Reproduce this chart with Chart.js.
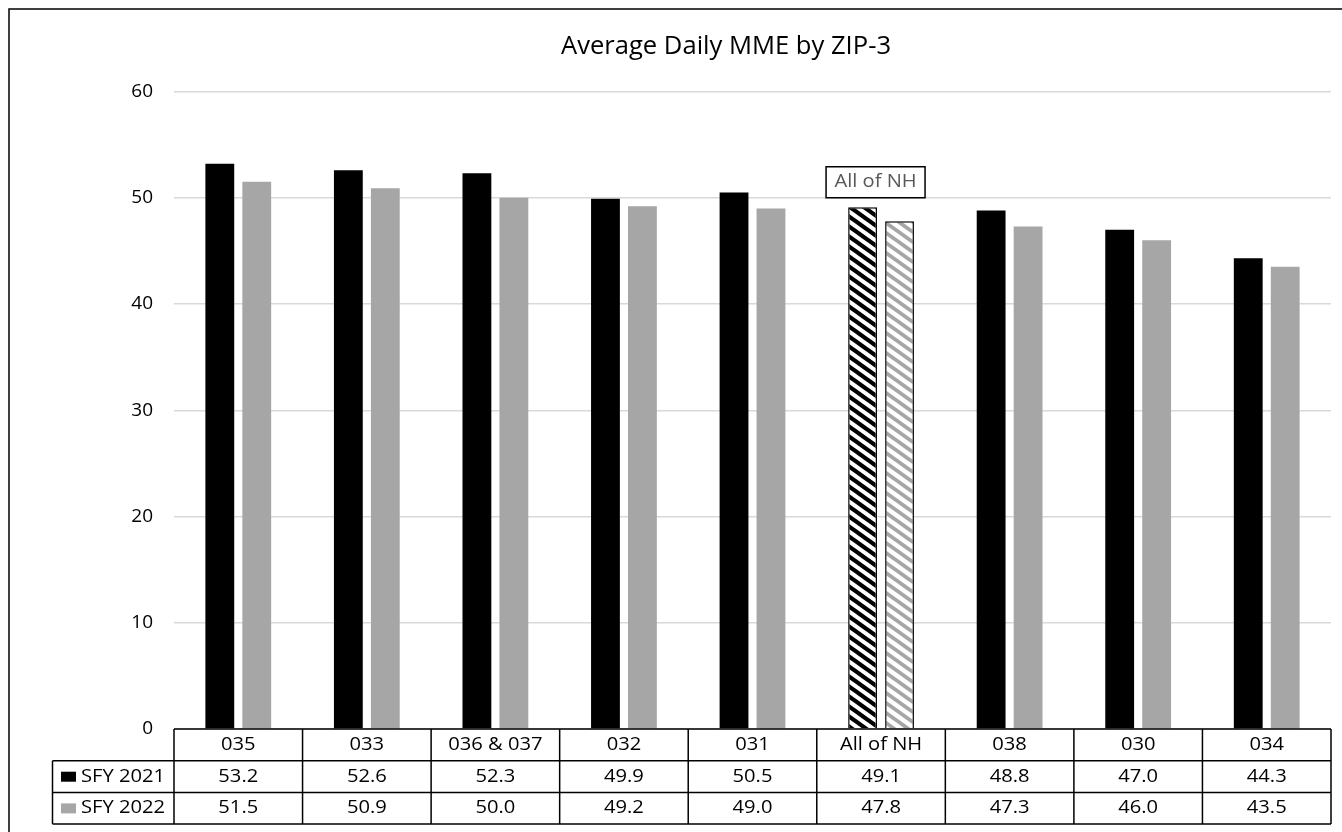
<!DOCTYPE html>
<html>
<head>
<meta charset="utf-8">
<title>Average Daily MME by ZIP-3</title>
<script src="https://cdn.jsdelivr.net/npm/chart.js@4/dist/chart.umd.min.js"></script>
<style>
  html, body { margin: 0; padding: 0; background: #fff; overflow: hidden; }
  #wrap { width: 1342px; height: 832px; position: relative; }
  canvas { display: block; }
</style>
</head>
<body>
<div id="wrap"><canvas id="chart" width="1342" height="832"></canvas></div>
<script>
// ZIP-3 regions, in display order
const categories = ['035', '033', '036 & 037', '032', '031', 'All of NH', '038', '030', '034'];
const seriesNames = ['SFY 2021', 'SFY 2022'];
// Average daily MME per region
const sfy2021 = [53.2, 52.6, 52.3, 49.9, 50.5, 49.1, 48.8, 47.0, 44.3];
const sfy2022 = [51.5, 50.9, 50.0, 49.2, 49.0, 47.8, 47.3, 46.0, 43.5];
const yTickValues = [0, 10, 20, 30, 40, 50, 60];
const statewideCategory = 'All of NH';
const titleText = 'Average Daily MME by ZIP-3';

const BLACK = '#000000';
const GREY = '#a6a6a6';
const FONT = '"Open Sans", Lato, sans-serif';

// Diagonal hatch used for the statewide bars
function makeHatch(color, lineWidth) {
  const w = 14, h = 10;
  const c = document.createElement('canvas');
  c.width = w; c.height = h;
  const g = c.getContext('2d');
  g.fillStyle = '#ffffff';
  g.fillRect(0, 0, w, h);
  g.strokeStyle = color;
  g.lineWidth = lineWidth;
  g.beginPath();
  [-h, 0, h].forEach(off => {
    g.moveTo(-w, off - h); g.lineTo(2 * w, off + 2 * h);
  });
  g.stroke();
  return g.createPattern(c, 'repeat');
}
const ctx0 = document.getElementById('chart').getContext('2d');
const hatchBlack = makeHatch(BLACK, 4.2);
const hatchGrey = makeHatch(GREY, 3.8);
const statewideIndex = categories.indexOf(statewideCategory);

// Horizontal scale that makes a sample string span a given width
function widthScale(ctx, font, sample, width) {
  ctx.save();
  ctx.font = font;
  const m = ctx.measureText(sample).width;
  ctx.restore();
  return width / m;
}

// Text drawn slightly widened, like the rest of the figure's lettering
function wideText(ctx, str, x, y, font, align, sx, color) {
  ctx.save();
  ctx.font = font;
  ctx.fillStyle = color || '#000';
  ctx.textAlign = align;
  ctx.textBaseline = 'middle';
  ctx.translate(x, y);
  ctx.scale(sx, 1);
  ctx.fillText(str, 0, 0);
  ctx.restore();
}

const decorations = {
  id: 'decorations',
  afterDraw(chart) {
    const { ctx, chartArea: area, scales } = chart;
    const x = scales.x, y = scales.y;
    const n = categories.length;
    const colW = (area.right - area.left) / n;

    // outer frame
    ctx.save();
    ctx.strokeStyle = '#000';
    ctx.lineWidth = 1.5;
    ctx.beginPath();
    ctx.moveTo(9, 900); ctx.lineTo(9, 9); ctx.lineTo(1400, 9);
    ctx.stroke();
    ctx.restore();

    // title
    const titleFont = '25px ' + FONT;
    wideText(ctx, titleText, 726, 47, titleFont, 'center',
      widthScale(ctx, titleFont, titleText, 330), '#000');

    // data table under the plot
    const rowH = 31.7;
    const y0 = area.bottom, y1 = y0 + rowH, y2 = y1 + rowH, y3 = y2 + rowH;
    const legendLeft = 52.5;
    ctx.save();
    ctx.strokeStyle = '#000';
    ctx.lineWidth = 1.5;
    ctx.beginPath();
    ctx.moveTo(area.left, y0); ctx.lineTo(area.right, y0);
    [y1, y2, y3].forEach(v => { ctx.moveTo(legendLeft, v); ctx.lineTo(area.right, v); });
    ctx.moveTo(legendLeft, y1); ctx.lineTo(legendLeft, y3);
    for (let k = 0; k <= n; k++) {
      const bx = area.left + k * colW;
      ctx.moveTo(bx, y0); ctx.lineTo(bx, y3);
    }
    ctx.stroke();
    ctx.restore();

    const tfont = '18px ' + FONT;
    const sx = widthScale(ctx, tfont, seriesNames[0], 84);
    categories.forEach((cat, i) => {
      const cx = x.getPixelForValue(i);
      wideText(ctx, cat, cx, (y0 + y1) / 2, tfont, 'center', sx);
      wideText(ctx, sfy2021[i].toFixed(1), cx, (y1 + y2) / 2, tfont, 'center', sx);
      wideText(ctx, sfy2022[i].toFixed(1), cx, (y2 + y3) / 2, tfont, 'center', sx);
    });
    // legend keys in the row headers
    [[BLACK, y1], [GREY, y2]].forEach(([col, top], j) => {
      ctx.fillStyle = col;
      ctx.fillRect(61, top + 11, 15, 10);
      wideText(ctx, seriesNames[j], 81, top + rowH / 2, tfont, 'left', sx);
    });

    // callout box above the statewide pair
    const bx = x.getPixelForValue(statewideIndex) - 5.5;
    const bw = 99, bh = 31;
    const bb = y.getPixelForValue(50);
    ctx.save();
    ctx.fillStyle = '#fff';
    ctx.fillRect(bx - bw / 2, bb - bh, bw, bh);
    ctx.strokeStyle = '#000';
    ctx.lineWidth = 1.5;
    ctx.strokeRect(bx - bw / 2, bb - bh, bw, bh);
    ctx.restore();
    wideText(ctx, statewideCategory, bx, bb - bh / 2, tfont, 'center', sx, '#595959');
  }
};

new Chart(ctx0, {
  type: 'bar',
  data: {
    labels: categories,
    datasets: [
      {
        label: seriesNames[0],
        data: sfy2021,
        backgroundColor: c => c.dataIndex === statewideIndex ? hatchBlack : BLACK,
        borderColor: BLACK,
        borderWidth: c => c.dataIndex === statewideIndex ? 1.5 : 0,
        categoryPercentage: 0.575,
        barPercentage: 0.78
      },
      {
        label: seriesNames[1],
        data: sfy2022,
        backgroundColor: c => c.dataIndex === statewideIndex ? hatchGrey : GREY,
        borderColor: BLACK,
        borderWidth: c => c.dataIndex === statewideIndex ? 1.5 : 0,
        categoryPercentage: 0.575,
        barPercentage: 0.78
      }
    ]
  },
  options: {
    responsive: false,
    animation: false,
    devicePixelRatio: 1,
    layout: { padding: { left: 0, right: 11, top: 91.5, bottom: 103 } },
    plugins: {
      legend: { display: false },
      title: { display: false },
      tooltip: { enabled: false }
    },
    scales: {
      x: { display: false },
      y: {
        min: 0,
        max: 60,
        afterFit(scale) { scale.width = 174; },
        afterBuildTicks(scale) { scale.ticks = yTickValues.map(v => ({ value: v })); },
        ticks: { color: '#000', padding: 21, font: { family: FONT, size: 19 } },
        grid: { color: '#d9d9d9', lineWidth: 1.5, drawTicks: false },
        border: { display: false }
      }
    }
  },
  plugins: [decorations]
});
</script>
</body>
</html>
